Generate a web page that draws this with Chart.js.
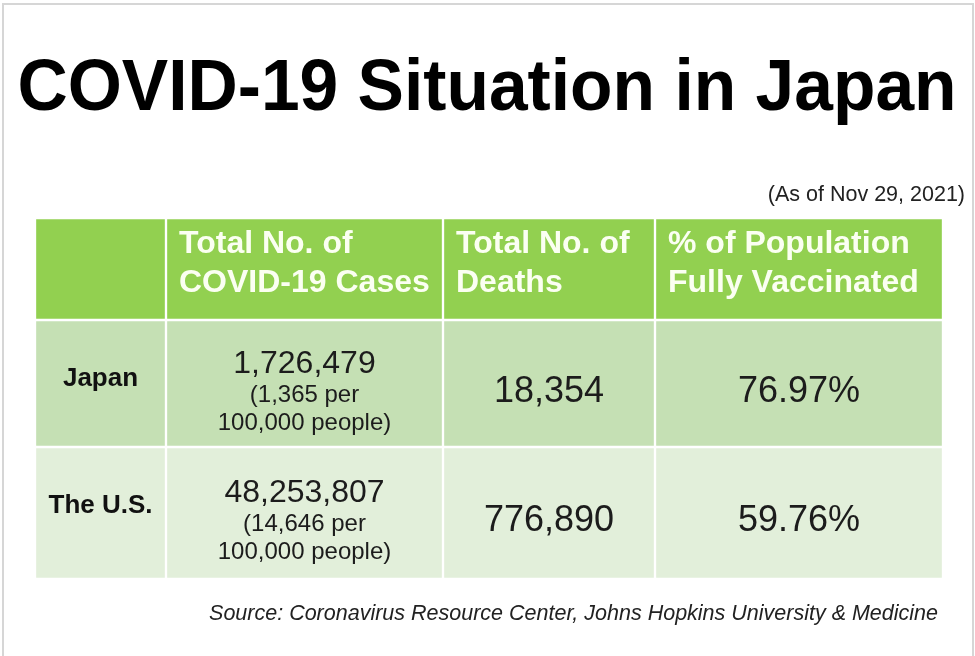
<!DOCTYPE html>
<html>
<head>
<meta charset="utf-8">
<title>COVID-19 Situation in Japan</title>
<script src="https://cdn.jsdelivr.net/npm/chart.js@4.4.1/dist/chart.umd.min.js"></script>
<style>
    html, body { margin: 0; padding: 0; background: #fff; }
    #wrap { width: 975px; height: 656px; }
</style>
</head>
<body>
<div id="wrap"><canvas id="tableChart" width="975" height="656"></canvas></div>
<script>
// table values
const countries = ['Japan', 'The U.S.'];
const headers = [
    ['Total No. of', 'COVID-19 Cases'],
    ['Total No. of', 'Deaths'],
    ['% of Population', 'Fully Vaccinated']
];
const totalCases = [1726479, 48253807];
const casesPer100k = [1365, 14646];
const totalDeaths = [18354, 776890];
const fullyVaccinated = [76.97, 59.76];

// layout of the grid (pixel sizes of columns and rows)
const colWidths = [131, 277, 212, 288];
const rowHeights = [102, 127, 132];
const rowColors = ['#92d050', '#c5e0b4', '#e2efda'];

const fmt = (n) => n.toLocaleString('en-US');

const colEdges = [0];
colWidths.forEach((w) => colEdges.push(colEdges[colEdges.length - 1] + w));
const rowCenters = [];
let acc = 0;
rowHeights.forEach((h) => { rowCenters.push(acc + h / 2); acc += h; });
const tableW = colEdges[colEdges.length - 1];
const tableH = acc;

const datasets = rowHeights.map((h, r) => ({
    label: r === 0 ? 'header' : countries[r - 1],
    data: colWidths.map((w, c) => ({ x: [colEdges[c], colEdges[c + 1]], y: rowCenters[r] })),
    backgroundColor: rowColors[r],
    borderColor: '#ffffff',
    borderWidth: 1.5,
    borderSkipped: false,
    barThickness: h,
    grouped: false,
}));

// text for each body cell, by row then column
const cellText = (r, c) => {
    if (c === 0) return { lines: [countries[r]], font: 'bold 26px "Liberation Sans", Arial, sans-serif', offs: [r === 0 ? 2 : 0] };
    if (c === 1) return {
        lines: [fmt(totalCases[r]), '(' + fmt(casesPer100k[r]) + ' per', '100,000 people)'],
        fonts: ['32px "Liberation Sans", Arial, sans-serif', '24px "Liberation Sans", Arial, sans-serif', '24px "Liberation Sans", Arial, sans-serif'],
        offs: [-11, 18, 46]
    };
    if (c === 2) return { lines: [fmt(totalDeaths[r])], font: '36px "Liberation Sans", Arial, sans-serif', offs: [18] };
    return { lines: [fullyVaccinated[r].toFixed(2) + '%'], font: '36px "Liberation Sans", Arial, sans-serif', offs: [18] };
};

const tableText = {
    id: 'tableText',
    afterDatasetsDraw(chart) {
        const ctx = chart.ctx;
        ctx.save();
        chart.data.datasets.forEach((ds, r) => {
            const meta = chart.getDatasetMeta(r);
            meta.data.forEach((bar, c) => {
                const p = bar.getProps(['x', 'y', 'base', 'height'], true);
                const left = Math.min(p.x, p.base);
                const right = Math.max(p.x, p.base);
                const top = p.y - p.height / 2;
                if (r === 0) {
                    if (c === 0) return;
                    ctx.fillStyle = '#fbfff2';
                    ctx.font = 'bold 32px "Liberation Sans", Arial, sans-serif';
                    ctx.textAlign = 'left';
                    ctx.textBaseline = 'alphabetic';
                    headers[c - 1].forEach((line, i) => {
                        ctx.fillText(line, left + 13, top + 35 + i * 39);
                    });
                    return;
                }
                const t = cellText(r - 1, c);
                ctx.fillStyle = c === 0 ? '#111111' : '#1c1c1c';
                ctx.textAlign = 'center';
                ctx.textBaseline = 'alphabetic';
                t.lines.forEach((line, i) => {
                    ctx.font = t.fonts ? t.fonts[i] : t.font;
                    ctx.fillText(line, (left + right) / 2, p.y + t.offs[i]);
                });
            });
        });
        ctx.restore();
    },
    afterDraw(chart) {
        const ctx = chart.ctx;
        ctx.save();
        // frame
        ctx.strokeStyle = '#d6d6d6';
        ctx.lineWidth = 2;
        ctx.beginPath();
        ctx.moveTo(3, 656);
        ctx.lineTo(3, 4);
        ctx.lineTo(973, 4);
        ctx.lineTo(973, 656);
        ctx.stroke();

        ctx.fillStyle = '#000000';
        ctx.textBaseline = 'alphabetic';
        ctx.textAlign = 'center';
        ctx.font = 'bold 72px "Liberation Sans", Arial, sans-serif';
        ctx.save();
        ctx.translate(487, 110);
        ctx.scale(0.966, 1);
        ctx.fillText('COVID-19 Situation in Japan', 0, 0);
        ctx.restore();

        ctx.fillStyle = '#222222';
        ctx.textAlign = 'right';
        ctx.font = '21.5px "Liberation Sans", Arial, sans-serif';
        ctx.fillText('(As of Nov 29, 2021)', 965, 201);

        ctx.font = 'italic 21.5px "Liberation Sans", Arial, sans-serif';
        ctx.fillText('Source: Coronavirus Resource Center, Johns Hopkins University & Medicine', 938, 620);
        ctx.restore();
    }
};

new Chart(document.getElementById('tableChart').getContext('2d'), {
    type: 'bar',
    data: { datasets },
    options: {
        indexAxis: 'y',
        responsive: false,
        maintainAspectRatio: false,
        animation: false,
        layout: {
            padding: { left: 35, right: 975 - 35 - tableW, top: 218, bottom: 656 - 218 - tableH },
        },
        plugins: {
            legend: { display: false },
            tooltip: { enabled: false },
            title: { display: false },
        },
        scales: {
            x: { type: 'linear', display: false, offset: false, min: 0, max: tableW },
            y: { type: 'linear', display: false, offset: false, grid: { offset: false }, min: 0, max: tableH, reverse: true },
        },
    },
    plugins: [tableText],
});
</script>
</body>
</html>
